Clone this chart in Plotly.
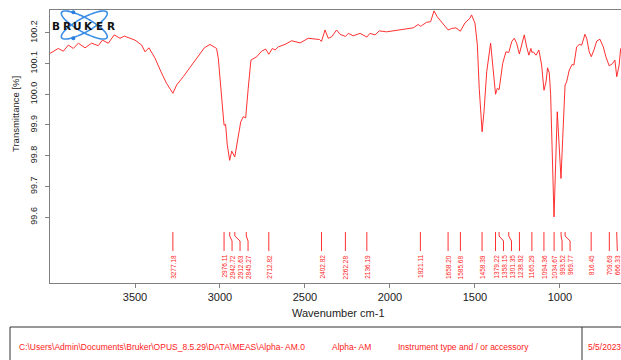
import math
import plotly.graph_objects as go

# ---------------- data ----------------
wavenumber = [
    4000, 3951, 3922, 3892, 3863, 3833, 3794, 3755, 3716, 3692, 3657, 3622, 3588, 3563,
    3529, 3500, 3461, 3441, 3418, 3382, 3347, 3314, 3277, 3255, 3216, 3167, 3128, 3092,
    3059, 3020, 3010, 2994, 2976, 2967, 2957, 2943, 2931, 2913, 2896, 2878, 2863, 2849,
    2834, 2818, 2784, 2755, 2731, 2713, 2692, 2676, 2657, 2618, 2578, 2529, 2481, 2441,
    2415, 2403, 2382, 2363, 2343, 2314, 2294, 2262, 2245, 2216, 2176, 2136, 2118, 2088,
    2063, 2020, 1981, 1941, 1902, 1863, 1834, 1821, 1814, 1785, 1761, 1741, 1722, 1706,
    1682, 1658, 1637, 1612, 1586, 1559, 1530, 1520, 1500, 1486, 1475, 1458, 1447, 1431,
    1408, 1392, 1379, 1369, 1358, 1337, 1318, 1301, 1284, 1269, 1255, 1239, 1226, 1210,
    1196, 1183, 1171, 1165, 1157, 1141, 1124, 1108, 1094, 1082, 1073, 1063, 1055, 1045,
    1035, 1016, 1006, 994, 984, 975, 970, 961, 945, 928, 918, 902, 886, 872, 853, 843,
    828, 816, 800, 784, 765, 745, 730, 710, 690, 677, 666, 652, 643,
]
transmittance = [
    100.133, 100.149, 100.140, 100.160, 100.149, 100.166, 100.151, 100.166, 100.158, 100.176,
    100.166, 100.193, 100.182, 100.189, 100.182, 100.176, 100.160, 100.138, 100.151, 100.117,
    100.073, 100.035, 100.003, 100.030, 100.057, 100.095, 100.122, 100.151, 100.162, 100.149,
    100.117, 100.019, 99.899, 99.902, 99.834, 99.785, 99.815, 99.796, 99.850, 99.910,
    99.927, 99.923, 100.019, 100.111, 100.122, 100.140, 100.147, 100.130, 100.149, 100.144,
    100.154, 100.162, 100.174, 100.167, 100.182, 100.180, 100.178, 100.172, 100.209, 100.182,
    100.187, 100.209, 100.195, 100.188, 100.198, 100.190, 100.198, 100.186, 100.198, 100.193,
    100.206, 100.203, 100.206, 100.211, 100.214, 100.216, 100.227, 100.221, 100.223, 100.234,
    100.236, 100.271, 100.252, 100.241, 100.225, 100.209, 100.214, 100.216, 100.205, 100.232,
    100.247, 100.258, 100.231, 100.160, 100.019, 99.878, 99.943, 100.073, 100.166, 100.073,
    100.000, 100.019, 100.015, 100.100, 100.138, 100.136, 100.171, 100.182, 100.166, 100.131,
    100.160, 100.193, 100.154, 100.127, 100.149, 100.136, 100.138, 100.127, 100.144, 100.095,
    100.013, 100.040, 100.086, 100.070, 100.000, 99.800, 99.601, 99.943, 99.840, 99.726,
    99.856, 99.980, 100.030, 100.040, 100.079, 100.097, 100.095, 100.154, 100.162, 100.160,
    100.195, 100.182, 100.138, 100.122, 100.144, 100.173, 100.179, 100.154, 100.122, 100.092,
    100.100, 100.111, 100.057, 100.095, 100.149,
]
peak_positions = [
    3277.18, 2976.11, 2942.72, 2912.63, 2845.27, 2712.82, 2402.82, 2262.28, 2136.19,
    1821.11, 1658.20, 1585.68, 1458.39, 1379.22, 1358.15, 1301.35, 1238.92, 1165.29,
    1094.36, 1034.67, 993.52, 969.77, 816.45, 709.69, 666.33,
]
x_tick_values = [3500, 3000, 2500, 2000, 1500, 1000]
y_tick_values = [99.6, 99.7, 99.8, 99.9, 100.0, 100.1, 100.2]
y_tick_labels = ["99.6", "99.7", "99.8", "99.9", "100.0", "100.1", "100.2"]

footer_path = "C:\\Users\\Admin\\Documents\\Bruker\\OPUS_8.5.29\\DATA\\MEAS\\Alpha- AM.0"
footer_sample = "Alpha- AM"
footer_instrument = "Instrument type and / or accessory"
footer_date = "5/5/2023"

# ---------------- layout constants ----------------
W, H = 621, 360
ML, MR, MT, MB = 50, 0, 10, 77
PW, PH = W - ML - MR, H - MT - MB
X_RANGE = [4000, 641]
Y_RANGE = [99.386, 100.274]
RED = "#ff1a1a"
AXIS = "#808080"
FONT = "Liberation Sans, Arial, sans-serif"


def px(x):  # pixel -> paper x
    return (x - ML) / PW


def py(y):  # pixel -> paper y
    return (H - MB - y) / PH


def yval(ypix):  # pixel -> data y
    return Y_RANGE[1] - (ypix - MT) / PH * (Y_RANGE[1] - Y_RANGE[0])


def wn2pix(w):
    return ML + (X_RANGE[0] - w) / (X_RANGE[0] - X_RANGE[1]) * PW


def pix2wn(p):
    return X_RANGE[0] - (p - ML) / PW * (X_RANGE[0] - X_RANGE[1])


fig = go.Figure()
fig.add_trace(go.Scatter(x=wavenumber, y=transmittance, mode="lines",
                         line=dict(color=RED, width=0.9), hoverinfo="skip"))

# peak markers with spread labels
true_pix = [wn2pix(p) for p in peak_positions]
label_pix = []
for i, tp in enumerate(true_pix):
    if i == 0:
        label_pix.append(tp)
    else:
        label_pix.append(max(tp, label_pix[-1] + 8))
lx, ly = [], []
annotations = []
for p, lp in zip(peak_positions, label_pix):
    lw = pix2wn(lp)
    lx += [p, p, lw, lw, None]
    ly += [yval(232), yval(236), yval(241), yval(251), None]
    annotations.append(dict(x=lw, y=yval(253), xref="x", yref="y", text=f"{p:.2f}",
                            textangle=-90, showarrow=False, xanchor="center", yanchor="top",
                            font=dict(family=FONT, size=6.5, color=RED)))
fig.add_trace(go.Scatter(x=lx, y=ly, mode="lines", line=dict(color=RED, width=0.9),
                         hoverinfo="skip"))

# axis titles
annotations.append(dict(x=px(338), y=py(313), xref="paper", yref="paper", text="Wavenumber cm-1",
                        showarrow=False, xanchor="center", yanchor="middle",
                        font=dict(family=FONT, size=11, color="#222")))
annotations.append(dict(x=px(15), y=py(114), xref="paper", yref="paper", text="Transmittance [%]",
                        textangle=-90, showarrow=False, xanchor="center", yanchor="middle",
                        font=dict(family=FONT, size=9.5, color="#222")))

# footer texts
for txt, xpix in [(footer_path, 17), (footer_sample, 329.5), (footer_instrument, 396), (footer_date, 586)]:
    annotations.append(dict(x=px(xpix), y=py(347), xref="paper", yref="paper", text=txt,
                            showarrow=False, xanchor="left", yanchor="middle",
                            font=dict(family=FONT, size=8.5, color=RED)))

# logo letters
for i, ch in enumerate("BRUKER"):
    annotations.append(dict(x=px(55.5 + i * 11.1), y=py(25.5), xref="paper", yref="paper",
                            text=f"<b>{ch}</b>", showarrow=False, xanchor="center", yanchor="middle",
                            font=dict(family="DejaVu Sans, Arial, sans-serif", size=10.5, color="#111")))

shapes = []
# footer box
shapes.append(dict(type="line", xref="paper", yref="paper", x0=px(10), x1=px(W + 5), y0=py(327), y1=py(327),
                   line=dict(color="#333", width=1)))
shapes.append(dict(type="line", xref="paper", yref="paper", x0=px(10), x1=px(10), y0=py(327), y1=py(H + 5),
                   line=dict(color="#333", width=1)))
shapes.append(dict(type="line", xref="paper", yref="paper", x0=px(582), x1=px(582), y0=py(327), y1=py(H + 5),
                   line=dict(color="#333", width=1)))

# logo ellipses
cx, cy, a, b = 84.3, 25.0, 26.0, 7.0
for ang in (29, -29):
    t = math.radians(ang)
    pts = []
    for k in range(0, 73):
        s = 2 * math.pi * k / 72
        ex, ey = a * math.cos(s), b * math.sin(s)
        X = cx + ex * math.cos(t) - ey * math.sin(t)
        Y = cy + ex * math.sin(t) + ey * math.cos(t)
        pts.append(f"{px(X):.5f},{py(Y):.5f}")
    path = "M " + " L ".join(pts) + " Z"
    shapes.append(dict(type="path", xref="paper", yref="paper", path=path,
                       line=dict(color="#3b8ee6", width=1.6)))
for dxp, dyp in [(73.3, 12.3), (73.3, 38.3)]:
    shapes.append(dict(type="circle", xref="paper", yref="paper", x0=px(dxp - 2), x1=px(dxp + 2),
                       y0=py(dyp + 2), y1=py(dyp - 2), fillcolor="#2a7ee0", line=dict(width=0)))

fig.update_layout(
    width=W, height=H, margin=dict(l=ML, r=MR, t=MT, b=MB, pad=0),
    paper_bgcolor="white", plot_bgcolor="white", showlegend=False,
    annotations=annotations, shapes=shapes,
    font=dict(family=FONT, color="#222"),
    xaxis=dict(range=X_RANGE, tickvals=x_tick_values, ticktext=[str(v) for v in x_tick_values],
               showgrid=False, zeroline=False, showline=True, linecolor=AXIS, linewidth=1,
               mirror=True, ticks="outside", ticklen=4, tickcolor=AXIS,
               tickfont=dict(family=FONT, size=11, color="#222")),
    yaxis=dict(range=Y_RANGE, tickvals=y_tick_values, ticktext=y_tick_labels,
               showgrid=False, zeroline=False, showline=True, linecolor=AXIS, linewidth=1,
               ticks="outside", ticklen=4, tickcolor=AXIS, tickangle=-90, ticklabelstandoff=4,
               tickfont=dict(family=FONT, size=9, color="#222")),
)
fig.write_html("out.html")
